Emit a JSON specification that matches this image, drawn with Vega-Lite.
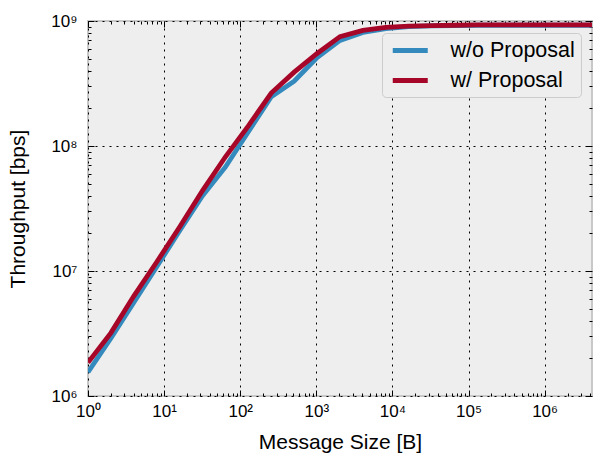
{
  "$schema": "https://vega.github.io/schema/vega-lite/v6.json",
  "width": 504,
  "height": 375,
  "autosize": {"type": "none"},
  "padding": {"left": 88, "top": 21, "right": 2, "bottom": 65},
  "background": "white",
  "config": {
    "font": "Liberation Sans",
    "view": {"fill": "#eeeeee", "stroke": "#c8c8c8", "strokeWidth": 2},
    "axis": {"domain": false, "labelFont": "Liberation Sans", "titleFont": "Liberation Sans", "labelColor": "black", "titleColor": "black", "titleFontWeight": "normal", "labelFlush": false, "labelOverlap": false}
  },
  "data": {
    "values": [
      {"size": 1, "tp": 1.55e6, "series": "w/o Proposal"},
      {"size": 2, "tp": 2.9e6, "series": "w/o Proposal"},
      {"size": 4, "tp": 5.6e6, "series": "w/o Proposal"},
      {"size": 8, "tp": 1.08e7, "series": "w/o Proposal"},
      {"size": 16, "tp": 2.1e7, "series": "w/o Proposal"},
      {"size": 32, "tp": 4.0e7, "series": "w/o Proposal"},
      {"size": 64, "tp": 6.8e7, "series": "w/o Proposal"},
      {"size": 128, "tp": 1.3e8, "series": "w/o Proposal"},
      {"size": 256, "tp": 2.48e8, "series": "w/o Proposal"},
      {"size": 512, "tp": 3.3e8, "series": "w/o Proposal"},
      {"size": 1024, "tp": 5.1e8, "series": "w/o Proposal"},
      {"size": 2048, "tp": 7.0e8, "series": "w/o Proposal"},
      {"size": 4096, "tp": 8.1e8, "series": "w/o Proposal"},
      {"size": 8192, "tp": 8.7e8, "series": "w/o Proposal"},
      {"size": 16384, "tp": 9.0e8, "series": "w/o Proposal"},
      {"size": 32768, "tp": 9.15e8, "series": "w/o Proposal"},
      {"size": 65536, "tp": 9.2e8, "series": "w/o Proposal"},
      {"size": 131072, "tp": 9.25e8, "series": "w/o Proposal"},
      {"size": 262144, "tp": 9.25e8, "series": "w/o Proposal"},
      {"size": 524288, "tp": 9.25e8, "series": "w/o Proposal"},
      {"size": 1048576, "tp": 9.25e8, "series": "w/o Proposal"},
      {"size": 2097152, "tp": 9.25e8, "series": "w/o Proposal"},
      {"size": 4194304, "tp": 9.25e8, "series": "w/o Proposal"},
      {"size": 1, "tp": 1.85e6, "series": "w/ Proposal"},
      {"size": 2, "tp": 3.2e6, "series": "w/ Proposal"},
      {"size": 4, "tp": 6.3e6, "series": "w/ Proposal"},
      {"size": 8, "tp": 1.18e7, "series": "w/ Proposal"},
      {"size": 16, "tp": 2.25e7, "series": "w/ Proposal"},
      {"size": 32, "tp": 4.4e7, "series": "w/ Proposal"},
      {"size": 64, "tp": 8.2e7, "series": "w/ Proposal"},
      {"size": 128, "tp": 1.45e8, "series": "w/ Proposal"},
      {"size": 256, "tp": 2.65e8, "series": "w/ Proposal"},
      {"size": 512, "tp": 3.9e8, "series": "w/ Proposal"},
      {"size": 1024, "tp": 5.5e8, "series": "w/ Proposal"},
      {"size": 2048, "tp": 7.5e8, "series": "w/ Proposal"},
      {"size": 4096, "tp": 8.4e8, "series": "w/ Proposal"},
      {"size": 8192, "tp": 8.9e8, "series": "w/ Proposal"},
      {"size": 16384, "tp": 9.1e8, "series": "w/ Proposal"},
      {"size": 32768, "tp": 9.2e8, "series": "w/ Proposal"},
      {"size": 65536, "tp": 9.25e8, "series": "w/ Proposal"},
      {"size": 131072, "tp": 9.3e8, "series": "w/ Proposal"},
      {"size": 262144, "tp": 9.3e8, "series": "w/ Proposal"},
      {"size": 524288, "tp": 9.3e8, "series": "w/ Proposal"},
      {"size": 1048576, "tp": 9.3e8, "series": "w/ Proposal"},
      {"size": 2097152, "tp": 9.3e8, "series": "w/ Proposal"},
      {"size": 4194304, "tp": 9.3e8, "series": "w/ Proposal"}
    ]
  },
  "resolve": {"axis": {"x": "independent", "y": "independent"}},
  "layer": [
    {
      "mark": {"type": "line", "strokeWidth": 4.8, "clip": true},
      "encoding": {
        "x": {"field": "size", "type": "quantitative",
          "scale": {"type": "log", "domain": [1, 4194304], "nice": false},
          "axis": {"orient": "bottom", "offset": 0, "values": [1, 10, 100, 1000, 10000, 100000, 1000000], "grid": true, "gridColor": "black", "gridDash": [2, 5], "gridWidth": 1, "gridOpacity": 1, "ticks": false, "labelPadding": 7, "labelFontSize": 17, "title": "Message Size [B]", "titleFontSize": 21, "titlePadding": 12,
            "labelExpr": "'10' + ['⁰','¹','²','³','⁴','⁵','⁶','⁷','⁸','⁹'][round(log(datum.value)/LN10)]"}},
        "y": {"field": "tp", "type": "quantitative",
          "scale": {"type": "log", "domain": [1000000, 1000000000], "nice": false},
          "axis": {"orient": "left", "offset": 0, "values": [1000000, 10000000, 100000000, 1000000000], "grid": true, "gridColor": "black", "gridDash": [2, 5], "gridWidth": 1, "gridOpacity": 1, "ticks": false, "labelPadding": 11, "labelFontSize": 17, "labelBaseline": "middle", "title": "Throughput [bps]", "titleFontSize": 21, "titlePadding": 22,
            "labelExpr": "'10' + ['⁰','¹','²','³','⁴','⁵','⁶','⁷','⁸','⁹'][round(log(datum.value)/LN10)]"}},
        "color": {"field": "series", "type": "nominal",
          "scale": {"domain": ["w/o Proposal", "w/ Proposal"], "range": ["#348ABD", "#A60628"]},
          "legend": {"orient": "none", "legendX": 294, "legendY": 12, "title": null, "symbolType": "M-1,0H3", "symbolStrokeWidth": 5, "symbolSize": 306.25, "symbolOffset": 2, "labelFontSize": 21.5, "labelOffset": 37.5, "padding": 6, "rowPadding": 8, "fillColor": "#eeeeee", "strokeColor": "#cccccc", "cornerRadius": 4, "labelFont": "Liberation Sans", "labelColor": "black"}}
      }
    },
    {
      "mark": {"type": "line", "opacity": 0},
      "encoding": {
        "x": {"field": "size", "type": "quantitative", "axis": {"orient": "bottom", "offset": -6, "values": [1, 10, 100, 1000, 10000, 100000, 1000000], "labels": false, "grid": false, "tickSize": 6, "tickColor": "black", "tickWidth": 1, "title": null}},
        "y": {"field": "tp", "type": "quantitative", "axis": {"orient": "left", "offset": -6, "values": [1000000, 10000000, 100000000, 1000000000], "labels": false, "grid": false, "tickSize": 6, "tickColor": "black", "tickWidth": 1, "title": null}}
      }
    },
    {
      "mark": {"type": "line", "opacity": 0},
      "encoding": {
        "x": {"field": "size", "type": "quantitative", "axis": {"orient": "bottom", "offset": -3, "values": [2,3,4,5,6,7,8,9,20,30,40,50,60,70,80,90,200,300,400,500,600,700,800,900,2000,3000,4000,5000,6000,7000,8000,9000,20000,30000,40000,50000,60000,70000,80000,90000,200000,300000,400000,500000,600000,700000,800000,900000,2000000,3000000,4000000], "labels": false, "grid": false, "tickSize": 3, "tickColor": "black", "tickWidth": 1, "title": null}},
        "y": {"field": "tp", "type": "quantitative", "axis": {"orient": "left", "offset": -3, "values": [2000000,3000000,4000000,5000000,6000000,7000000,8000000,9000000,20000000,30000000,40000000,50000000,60000000,70000000,80000000,90000000,200000000,300000000,400000000,500000000,600000000,700000000,800000000,900000000], "labels": false, "grid": false, "tickSize": 3, "tickColor": "black", "tickWidth": 1, "title": null}}
      }
    },
    {
      "mark": {"type": "line", "opacity": 0},
      "encoding": {
        "x": {"field": "size", "type": "quantitative", "axis": {"orient": "top", "offset": -6, "values": [1, 10, 100, 1000, 10000, 100000, 1000000], "labels": false, "grid": false, "tickSize": 6, "tickColor": "black", "tickWidth": 1, "title": null}},
        "y": {"field": "tp", "type": "quantitative", "axis": {"orient": "right", "offset": -6, "values": [1000000, 10000000, 100000000, 1000000000], "labels": false, "grid": false, "tickSize": 6, "tickColor": "black", "tickWidth": 1, "title": null}}
      }
    },
    {
      "mark": {"type": "line", "opacity": 0},
      "encoding": {
        "x": {"field": "size", "type": "quantitative", "axis": {"orient": "top", "offset": -3, "values": [2,3,4,5,6,7,8,9,20,30,40,50,60,70,80,90,200,300,400,500,600,700,800,900,2000,3000,4000,5000,6000,7000,8000,9000,20000,30000,40000,50000,60000,70000,80000,90000,200000,300000,400000,500000,600000,700000,800000,900000,2000000,3000000,4000000], "labels": false, "grid": false, "tickSize": 3, "tickColor": "black", "tickWidth": 1, "title": null}},
        "y": {"field": "tp", "type": "quantitative", "axis": {"orient": "right", "offset": -3, "values": [2000000,3000000,4000000,5000000,6000000,7000000,8000000,9000000,20000000,30000000,40000000,50000000,60000000,70000000,80000000,90000000,200000000,300000000,400000000,500000000,600000000,700000000,800000000,900000000], "labels": false, "grid": false, "tickSize": 3, "tickColor": "black", "tickWidth": 1, "title": null}}
      }
    }
  ]
}
